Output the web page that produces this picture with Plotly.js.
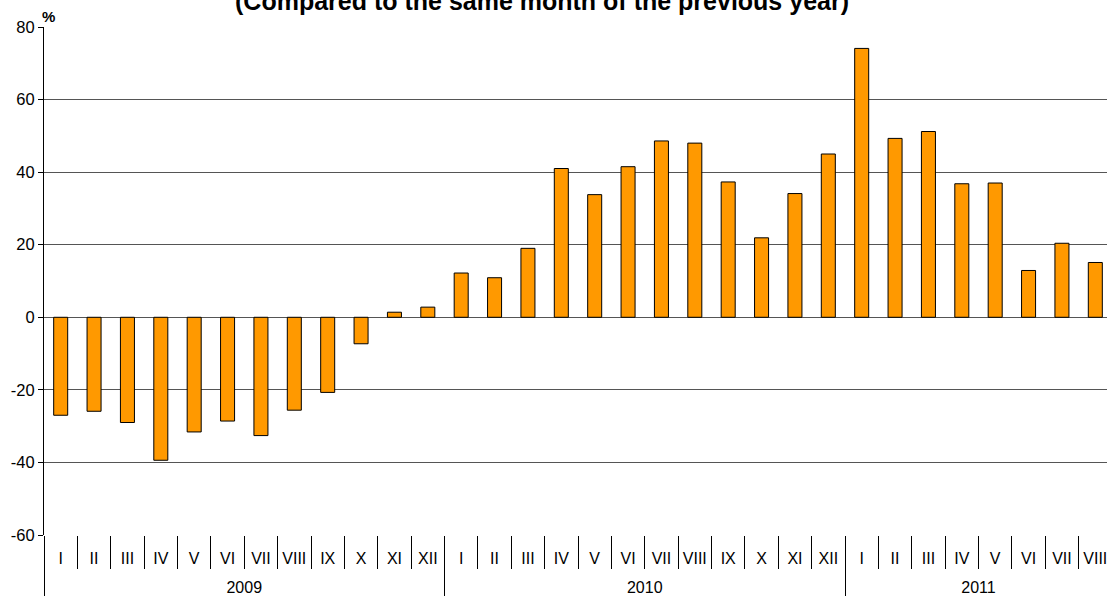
<!DOCTYPE html>
<html>
<head>
<meta charset="utf-8">
<script src="https://cdn.plot.ly/plotly-3.0.1.min.js"></script>
<style>
html, body { margin: 0; padding: 0; overflow: hidden; background: #fff; }
#chart { width: 1120px; height: 597px; }
</style>
</head>
<body>
<div id="chart"></div>
<script>
const years = ["2009","2009","2009","2009","2009","2009","2009","2009","2009","2009","2009","2009",
               "2010","2010","2010","2010","2010","2010","2010","2010","2010","2010","2010","2010",
               "2011","2011","2011","2011","2011","2011","2011","2011"];
const months = ["I","II","III","IV","V","VI","VII","VIII","IX","X","XI","XII",
                "I","II","III","IV","V","VI","VII","VIII","IX","X","XI","XII",
                "I","II","III","IV","V","VI","VII","VIII"];
const values = [-27.0, -25.9, -29.0, -39.4, -31.6, -28.6, -32.6, -25.6, -20.7, -7.3, 1.4, 2.8,
                12.2, 10.9, 19.0, 41.0, 33.8, 41.5, 48.6, 48.0, 37.3, 21.9, 34.1, 45.0,
                74.1, 49.3, 51.2, 36.8, 37.0, 12.9, 20.4, 15.1];
const yTickValues = [-60, -40, -20, 0, 20, 40, 60, 80];
const yTickLabels = ["-60", "-40", "-20", "0", "20", "40", "60", "80"];
const titleText = "(Compared to the same month of the previous year)";
const unitLabel = "%";

const FONT = "Liberation Sans, Arial, sans-serif";

// month label plus an empty second line, so the year row sits lower
const monthLabels = months.map(m => m + "<br><span style='font-size:20px'>\u00a0</span>");

const trace = {
  type: "bar",
  x: [years, monthLabels],
  y: values,
  marker: { color: "#FF9900", line: { color: "#000000", width: 1 } },
  hoverinfo: "skip"
};

const layout = {
  width: 1120,
  height: 597,
  margin: { l: 44, r: 8, t: 27, b: 62 },
  paper_bgcolor: "#ffffff",
  plot_bgcolor: "#ffffff",
  showlegend: false,
  bargap: 0.58,
  font: { family: FONT, size: 17, color: "#000" },
  xaxis: {
    type: "multicategory",
    showgrid: false,
    showline: false,
    ticks: "outside",
    ticklen: 33,
    tickcolor: "#000",
    tickwidth: 1,
    tickangle: 0,
    ticklabelstandoff: 12,
    showdividers: true,
    dividercolor: "#000",
    dividerwidth: 1,
    tickfont: { family: FONT, size: 16, color: "#000" },
    zeroline: false
  },
  xaxis2: {
    overlaying: "x",
    anchor: "free",
    position: 60 / 140,
    range: [-0.5, 31.5],
    tick0: -0.5,
    dtick: 1,
    ticks: "outside",
    ticklen: 5,
    tickcolor: "#000",
    showticklabels: false,
    showgrid: false,
    showline: true,
    linecolor: "#000",
    linewidth: 1,
    zeroline: false
  },
  yaxis: {
    range: [-60, 80],
    tickvals: yTickValues,
    ticktext: yTickLabels,
    ticks: "outside",
    ticklen: 5,
    tickcolor: "#000",
    showline: true,
    linecolor: "#000",
    linewidth: 1,
    showgrid: true,
    gridcolor: "#555",
    gridwidth: 1,
    zeroline: false,
    tickfont: { family: FONT, size: 16.5, color: "#000" }
  },
  annotations: [
    {
      text: "<b>" + titleText + "</b>",
      xref: "paper", yref: "paper",
      x: (542 - 44) / 1068, y: 1,
      xanchor: "center", yanchor: "bottom",
      yshift: 10,
      showarrow: false,
      font: { family: FONT, size: 25, color: "#000" }
    },
    {
      text: "<b>" + unitLabel + "</b>",
      xref: "paper", yref: "paper",
      x: 0, y: 1,
      xanchor: "left", yanchor: "bottom",
      xshift: -4, yshift: 0,
      showarrow: false,
      font: { family: FONT, size: 15, color: "#000" }
    }
  ]
};

Plotly.newPlot("chart", [trace], layout, { displayModeBar: false, staticPlot: true });
</script>
</body>
</html>
